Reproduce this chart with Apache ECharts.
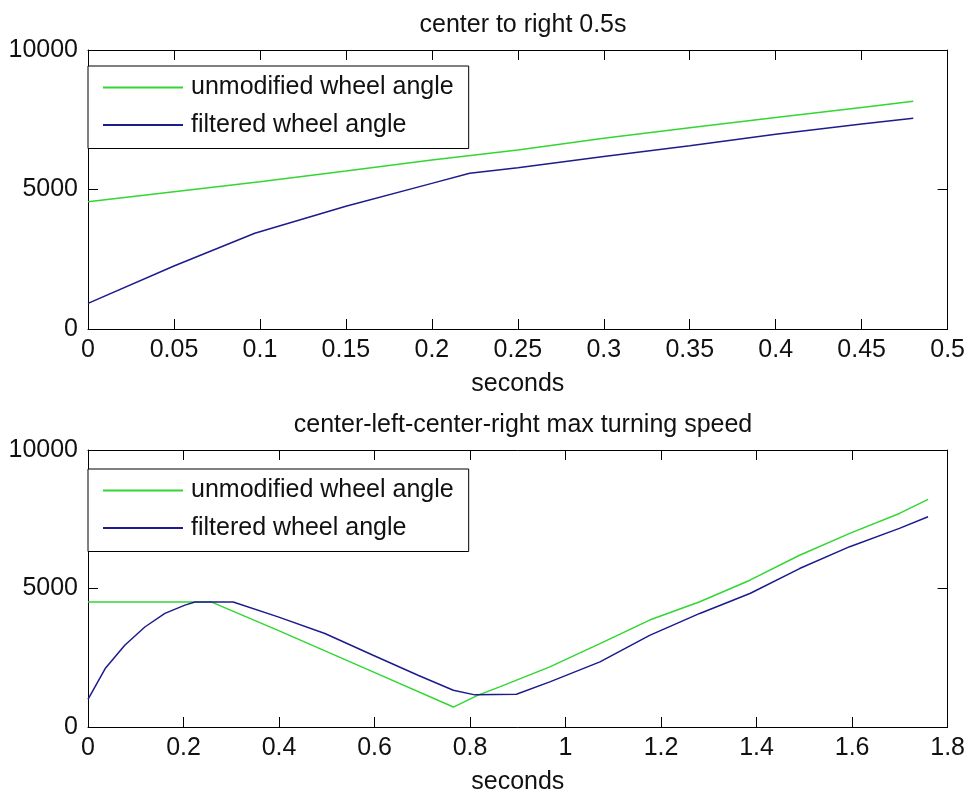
<!DOCTYPE html>
<html>
<head>
<meta charset="utf-8">
<script src="https://cdn.jsdelivr.net/npm/echarts@6/dist/echarts.min.js"></script>
<style>
html,body{margin:0;padding:0;background:#fff;}
#chart{width:968px;height:796px;}
</style>
</head>
<body>
<div id="chart"></div>
<script>
// ---------- data ----------
const seriesNames = ['unmodified wheel angle', 'filtered wheel angle'];
const plotTitles = ['center to right 0.5s', 'center-left-center-right max turning speed'];
const xAxisName = 'seconds';
const yTicks = [0, 5000, 10000];
const topXTicks = [0, 0.05, 0.1, 0.15, 0.2, 0.25, 0.3, 0.35, 0.4, 0.45, 0.5];
const bottomXTicks = [0, 0.2, 0.4, 0.6, 0.8, 1, 1.2, 1.4, 1.6, 1.8];

// top plot: center to right 0.5s
const topGreenT = [0, 0.05, 0.1, 0.15, 0.2, 0.25, 0.3, 0.35, 0.4, 0.45, 0.48];
const topGreenV = [4560, 4920, 5280, 5660, 6060, 6420, 6840, 7210, 7580, 7940, 8160];
const topBlueT = [0, 0.05, 0.097, 0.15, 0.2, 0.222, 0.25, 0.3, 0.35, 0.4, 0.45, 0.48];
const topBlueV = [920, 2260, 3430, 4400, 5220, 5580, 5780, 6180, 6570, 6980, 7350, 7550];

// bottom plot: center-left-center-right max turning speed
const botGreenT = [0, 0.259, 0.398, 0.597, 0.765, 0.817, 0.862, 0.967, 1.072, 1.176, 1.281, 1.386, 1.49, 1.595, 1.699, 1.759];
const botGreenV = [4510, 4510, 3490, 1990, 720, 1150, 1450, 2170, 3010, 3860, 4520, 5300, 6200, 6990, 7710, 8220];
const botBlueT = [0, 0.036, 0.077, 0.119, 0.161, 0.203, 0.224, 0.304, 0.398, 0.496, 0.597, 0.691, 0.765, 0.81, 0.897, 0.967, 1.072, 1.176, 1.281, 1.386, 1.49, 1.595, 1.699, 1.759];
const botBlueV = [1000, 2110, 2950, 3610, 4100, 4400, 4510, 4510, 3975, 3375, 2590, 1870, 1325, 1160, 1180, 1630, 2350, 3310, 4100, 4820, 5720, 6510, 7170, 7590];

// ---------- styling ----------
const FONT = 'Liberation Sans, Arial, sans-serif';
const TXT = '#111';
const GREEN = '#33d633';
const BLUE = '#1c1c8c';
const FS = 25;

function pairs(t, v) { return t.map((x, i) => [x, v[i]]); }

function xAxes(gridIndex, ticks, withName) {
  const base = {
    gridIndex: gridIndex, type: 'value',
    min: ticks[0], max: ticks[ticks.length - 1], interval: ticks[1] - ticks[0],
    axisLine: { show: true, onZero: false, lineStyle: { color: '#000', width: 1 } },
    axisTick: { show: true, inside: true, length: 10, lineStyle: { color: '#000', width: 1 } },
    splitLine: { show: false }
  };
  return [
    Object.assign({}, base, {
      position: 'bottom',
      axisLabel: { show: true, margin: 9, fontSize: FS, color: TXT, fontFamily: FONT },
      name: xAxisName, nameLocation: 'middle', nameGap: 43,
      nameTextStyle: { fontSize: FS, color: TXT, fontFamily: FONT }
    }),
    Object.assign({}, base, { position: 'top', axisLabel: { show: false } })
  ];
}

function yAxes(gridIndex) {
  const base = {
    gridIndex: gridIndex, type: 'value',
    min: yTicks[0], max: yTicks[yTicks.length - 1], interval: yTicks[1] - yTicks[0],
    axisLine: { show: true, onZero: false, lineStyle: { color: '#000', width: 1 } },
    axisTick: { show: true, inside: true, length: 10, lineStyle: { color: '#000', width: 1 } },
    splitLine: { show: false }
  };
  return [
    Object.assign({}, base, {
      position: 'left',
      axisLabel: { show: true, margin: 10, fontSize: FS, color: TXT, fontFamily: FONT, formatter: v => String(v) }
    }),
    Object.assign({}, base, { position: 'right', axisLabel: { show: false } })
  ];
}

function legendAt(top) {
  return {
    data: seriesNames, orient: 'vertical', left: 88, top: top,
    icon: 'rect', itemWidth: 80, itemHeight: 2, itemGap: 12.5,
    padding: [9, 15, 11, 15],
    borderColor: '#000', borderWidth: 1, backgroundColor: '#fff',
    textStyle: { fontSize: FS, color: TXT, fontFamily: FONT, padding: [0, 0, 0, 3] },
    selectedMode: false
  };
}

function line(name, data, color, xi, yi) {
  return {
    name: name, type: 'line', data: data, xAxisIndex: xi, yAxisIndex: yi,
    showSymbol: false, symbol: 'none', smooth: false,
    lineStyle: { color: color, width: 1.5 }, itemStyle: { color: color },
    animation: false
  };
}

const option = {
  backgroundColor: '#fff',
  animation: false,
  textStyle: { fontFamily: FONT },
  title: [
    { text: plotTitles[0], left: 518, top: 8, textAlign: 'center', textVerticalAlign: 'top',
      textStyle: { fontSize: FS, fontWeight: 'normal', color: TXT, fontFamily: FONT } },
    { text: plotTitles[1], left: 518, top: 408, textAlign: 'center', textVerticalAlign: 'top',
      textStyle: { fontSize: FS, fontWeight: 'normal', color: TXT, fontFamily: FONT } }
  ],
  legend: [legendAt(66), legendAt(469)],
  grid: [
    { left: 88, top: 50, width: 860, height: 279, containLabel: false },
    { left: 88, top: 450, width: 860, height: 277, containLabel: false }
  ],
  xAxis: [].concat(xAxes(0, topXTicks), xAxes(1, bottomXTicks)),
  yAxis: [].concat(yAxes(0), yAxes(1)),
  series: [
    line(seriesNames[0], pairs(topGreenT, topGreenV), GREEN, 0, 0),
    line(seriesNames[1], pairs(topBlueT, topBlueV), BLUE, 0, 0),
    line(seriesNames[0], pairs(botGreenT, botGreenV), GREEN, 2, 2),
    line(seriesNames[1], pairs(botBlueT, botBlueV), BLUE, 2, 2)
  ]
};

const chart = echarts.init(document.getElementById('chart'), null, { renderer: 'canvas' });
chart.setOption(option);
</script>
</body>
</html>
